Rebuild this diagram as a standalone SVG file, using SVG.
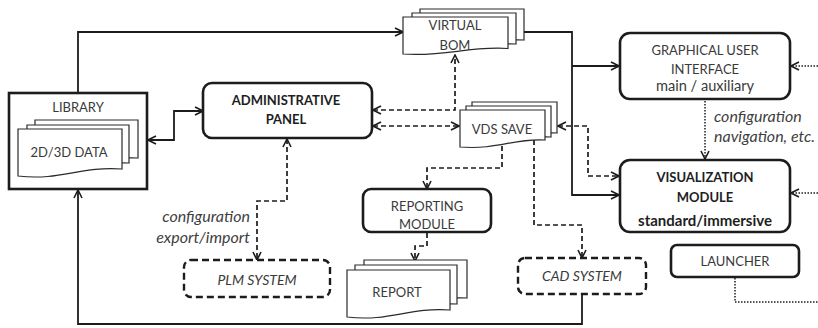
<svg xmlns="http://www.w3.org/2000/svg" width="818" height="328" viewBox="0 0 818 328">
  <style>
    .box { fill: #fff; stroke: #1c1c1c; stroke-width: 2.6; }
    .ext { fill: #fff; stroke: #1c1c1c; stroke-width: 2.4; stroke-dasharray: 7 4; }
    .page { fill: #fff; stroke: #2a2a2a; stroke-width: 1.2; }
    .solid { fill: none; stroke: #1c1c1c; stroke-width: 1.8; }
    .dash { fill: none; stroke: #1c1c1c; stroke-width: 1.7; stroke-dasharray: 5 3; }
    .dot { fill: none; stroke: #1c1c1c; stroke-width: 1.5; stroke-dasharray: 1.5 1.5; }
    text { font-family: Lato, "Open Sans", "Liberation Sans", sans-serif; font-size: 13px; fill: #3a3a3a; text-anchor: middle; }
    .b { font-weight: bold; fill: #1e1e1e; }
    .i { font-style: italic; font-size: 14px; }
    .sub { font-size: 14.6px; }
    .note { font-style: italic; font-size: 16px; fill: #404040; }
  </style>
  <defs>
    <marker id="arr" viewBox="0 0 10 10" refX="9" refY="5" markerWidth="10" markerHeight="10" markerUnits="userSpaceOnUse" orient="auto-start-reverse">
      <path d="M1,1 L9,5 L1,9" fill="none" stroke="#1c1c1c" stroke-width="1.6"/>
    </marker>
  </defs>

  <!-- connectors -->
  <g id="connectors">
    <!-- solid data flows -->
    <path class="solid" d="M78,93 V32 H403" marker-end="url(#arr)"/>
    <path class="solid" d="M148,140 H174 V111 H203" marker-start="url(#arr)" marker-end="url(#arr)"/>
    <path class="solid" d="M524,32 H572 V195 H619" marker-end="url(#arr)"/>
    <path class="solid" d="M572,66 H619" marker-end="url(#arr)"/>
    <path class="solid" d="M582,294 V324 H78 V190" marker-end="url(#arr)"/>
    <!-- dashed exchanges -->
    <path class="dash" d="M373,110 H455 V55" marker-start="url(#arr)" marker-end="url(#arr)"/>
    <path class="dash" d="M373,126 H459" marker-start="url(#arr)" marker-end="url(#arr)"/>
    <path class="dash" d="M287,139 V201 H257 V260" marker-start="url(#arr)" marker-end="url(#arr)"/>
    <path class="dash" d="M502,146 V168 H427 V189" marker-end="url(#arr)"/>
    <path class="dash" d="M427,233 V246 H415 V261" marker-end="url(#arr)"/>
    <path class="dash" d="M534,140 V225 H582 V258" marker-end="url(#arr)"/>
    <path class="dash" d="M558,126 H588 V176 H619" marker-start="url(#arr)" marker-end="url(#arr)"/>
    <!-- dotted control links -->
    <path class="dot" d="M818,66 H791" marker-end="url(#arr)"/>
    <path class="dot" d="M705,101 V159" marker-end="url(#arr)"/>
    <path class="dot" d="M818,193 H791" marker-end="url(#arr)"/>
    <path class="dot" d="M735,278 V302 H818"/>
  </g>

  <!-- library with stacked data sheets -->
  <g id="library">
    <rect class="box" x="9" y="93" width="138" height="96"/>
    <text x="78" y="112">LIBRARY</text>
    <path class="page" d="M35,120 h103 v38 C99,156 80,170 35,167 Z"/>
    <path class="page" d="M27,125 h102 v38 C90,161 71,175 27,172 Z"/>
    <path class="page" d="M18,129 h104 v40 C80,166 61,181 18,176 Z"/>
    <text x="69" y="157">2D/3D DATA</text>
  </g>

  <g id="admin-panel">
    <rect class="box" x="203" y="83" width="169" height="55" rx="9"/>
    <text class="b" x="286" y="105">ADMINISTRATIVE</text>
    <text class="b" x="286" y="124">PANEL</text>
  </g>

  <g id="virtual-bom">
    <path class="page" d="M420,9 h104 v31 C486,38 466,49 420,46 Z"/>
    <path class="page" d="M412,13 h104 v31 C478,42 458,53 412,50 Z"/>
    <path class="page" d="M403,17 h105 v31.5 C466,46 447,57 403,54 Z"/>
    <text x="455" y="30">VIRTUAL</text>
    <text x="455" y="50">BOM</text>
  </g>

  <g id="vds-save">
    <path class="page" d="M472,102 h85 v31 C526,131 510,142 472,139 Z"/>
    <path class="page" d="M466,106 h85 v31 C520,135 504,146 466,143 Z"/>
    <path class="page" d="M460,110 h85 v30 C514,138 498,150 460,147 Z"/>
    <text x="502" y="134">VDS SAVE</text>
  </g>

  <g id="gui">
    <rect class="box" x="620" y="33" width="170" height="66" rx="10"/>
    <text x="705" y="55">GRAPHICAL USER</text>
    <text x="705" y="74">INTERFACE</text>
    <text class="sub" x="705" y="91">main / auxiliary</text>
  </g>

  <g id="config-note">
    <text class="note" x="714" y="122" style="text-anchor:start">configuration</text>
    <text class="note" x="714" y="142" style="text-anchor:start">navigation, etc.</text>
  </g>

  <g id="visualization">
    <rect class="box" x="620" y="160" width="170" height="72" rx="10"/>
    <text class="b" x="705" y="182">VISUALIZATION</text>
    <text class="b" x="705" y="202">MODULE</text>
    <text class="b" x="705" y="226" style="font-size:15px">standard/immersive</text>
  </g>

  <g id="launcher">
    <rect class="box" x="671" y="245" width="128" height="32" rx="6"/>
    <text x="735" y="266">LAUNCHER</text>
  </g>

  <g id="reporting-module">
    <rect class="box" x="363" y="189" width="128" height="43" rx="8"/>
    <text x="427" y="211">REPORTING</text>
    <text x="427" y="229">MODULE</text>
  </g>

  <g id="report">
    <path class="page" d="M364,260 h103 v38 C428,296 409,310 364,307 Z"/>
    <path class="page" d="M355,265 h102 v39 C418,302 399,316 355,313 Z"/>
    <path class="page" d="M347,270 h103 v40 C409,307 390,322 347,317 Z"/>
    <text x="397" y="297">REPORT</text>
  </g>

  <g id="plm-note">
    <text class="note" x="250" y="222" style="text-anchor:end">configuration</text>
    <text class="note" x="250" y="243" style="text-anchor:end">export/import</text>
  </g>

  <g id="plm-system">
    <rect class="ext" x="184" y="260" width="146" height="37" rx="7"/>
    <text class="i" x="257" y="285">PLM SYSTEM</text>
  </g>

  <g id="cad-system">
    <rect class="ext" x="518" y="258" width="128" height="36" rx="7"/>
    <text class="i" x="582" y="281">CAD SYSTEM</text>
  </g>
</svg>
